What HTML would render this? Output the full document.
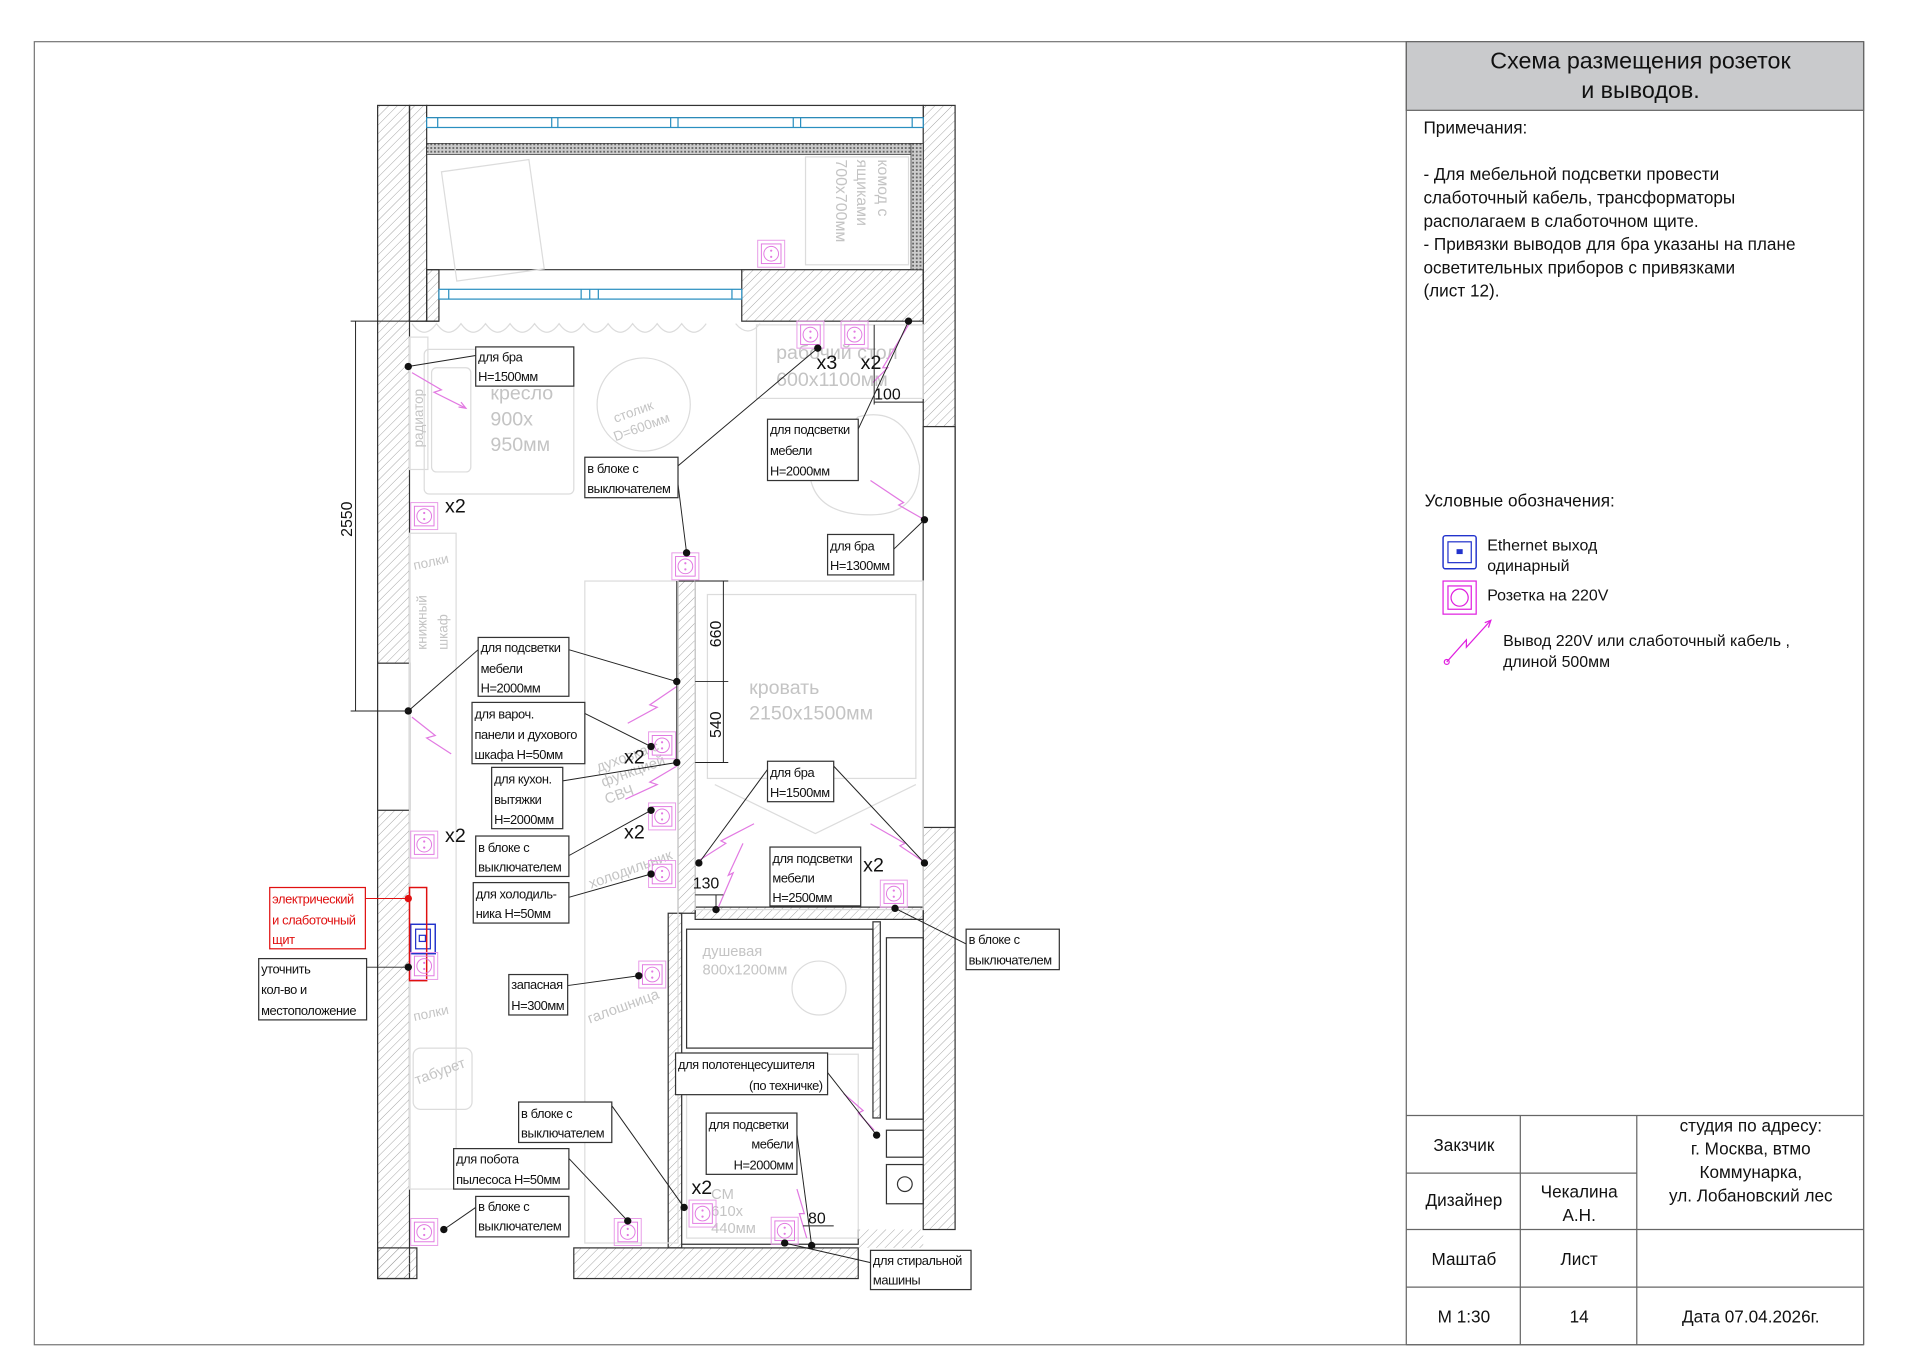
<!DOCTYPE html>
<html><head><meta charset="utf-8"><style>
html,body{margin:0;padding:0;background:#fff;}
svg{display:block;}
.t{font-family:"Liberation Sans",sans-serif;fill:#111;}
.n{font-family:"Liberation Sans Narrow","Liberation Sans",sans-serif;font-size:10.5px;letter-spacing:-0.35px;fill:#111;}
.g{font-family:"Liberation Sans",sans-serif;fill:#c4c4c4;}
.lb{fill:#fff;stroke:#333;stroke-width:1;}
.ld{stroke:#222;stroke-width:0.8;fill:none;}
.s{fill:none;stroke:#e27ae2;stroke-width:1;}
.fu{fill:none;stroke:#dcdcdc;stroke-width:1;}
</style></head><body>
<svg width="1920" height="1357" viewBox="0 0 1566 1107" preserveAspectRatio="none" xmlns="http://www.w3.org/2000/svg">
<defs>
<pattern id="h" width="5" height="5" patternUnits="userSpaceOnUse" patternTransform="rotate(45)"><line x1="0" y1="0" x2="0" y2="5" stroke="#999" stroke-width="0.7"/></pattern>
<pattern id="d" width="3" height="3" patternUnits="userSpaceOnUse"><rect width="3" height="3" fill="#ccc"/><rect width="1.5" height="1.5" fill="#666"/></pattern>
<g id="so"><rect x="0" y="0" width="22" height="22" fill="none" stroke="#e89be8" stroke-width="0.8"/><rect x="3" y="3" width="16" height="16" fill="none" stroke="#e27ae2" stroke-width="0.8"/><circle cx="11" cy="11" r="6" fill="none" stroke="#e27ae2" stroke-width="0.8"/><circle cx="11" cy="8.5" r="0.9" fill="#e27ae2"/><circle cx="11" cy="13.5" r="0.9" fill="#e27ae2"/></g>
</defs>
<rect width="1566" height="1107" fill="#fff"/>
<rect x="28" y="34" width="1492" height="1063" fill="none" stroke="#777" stroke-width="1"/>
<rect x="1147" y="34" width="373" height="56" fill="#c9cacc" stroke="#666"/>
<line x1="1147" y1="34" x2="1147" y2="1097" stroke="#666"/>
<text class="t" x="1338" y="56" font-size="19" text-anchor="middle">Схема размещения розеток</text>
<text class="t" x="1338" y="80" font-size="19" text-anchor="middle">и выводов.</text>
<g class="t" font-size="14">
<text x="1161" y="109">Примечания:</text>
<text x="1161" y="147">- Для мебельной подсветки провести</text>
<text x="1161" y="166">слаботочный кабель, трансформаторы</text>
<text x="1161" y="185">располагаем в слаботочном щите.</text>
<text x="1161" y="204">- Привязки выводов для бра указаны на плане</text>
<text x="1161" y="223">осветительных приборов с привязками</text>
<text x="1161" y="242">(лист 12).</text>
<text x="1162" y="413">Условные обозначения:</text>
</g>
<rect x="1177" y="437" width="27" height="27" fill="none" stroke="#2233cc" stroke-width="1.2" rx="2"/>
<rect x="1181" y="442" width="19" height="17" fill="none" stroke="#2233cc" stroke-width="1"/>
<rect x="1188" y="448" width="5" height="4" fill="#2233cc"/>
<rect x="1177" y="474" width="27" height="27" fill="none" stroke="#e020e0" stroke-width="1"/>
<rect x="1181" y="478" width="19" height="19" fill="none" stroke="#e020e0" stroke-width="1"/>
<circle cx="1190.5" cy="487.5" r="7" fill="none" stroke="#e020e0"/>
<polyline points="1180,540 1196,522 1196,528 1216,506" fill="none" stroke="#e020e0" stroke-width="1"/>
<polyline points="1211,508 1216,506 1214,512" fill="none" stroke="#e020e0"/>
<circle cx="1180" cy="540" r="2" fill="none" stroke="#e020e0"/>
<g class="t" font-size="13">
<text x="1213" y="449">Ethernet выход</text>
<text x="1213" y="466">одинарный</text>
<text x="1213" y="490">Розетка на 220V</text>
<text x="1226" y="527">Вывод 220V или слаботочный кабель ,</text>
<text x="1226" y="544">длиной 500мм</text>
</g>
<g stroke="#666" stroke-width="1" fill="none">
<line x1="1147" y1="910" x2="1520" y2="910"/>
<line x1="1147" y1="957" x2="1335" y2="957"/>
<line x1="1147" y1="1003" x2="1520" y2="1003"/>
<line x1="1147" y1="1050" x2="1520" y2="1050"/>
<line x1="1240" y1="910" x2="1240" y2="1097"/>
<line x1="1335" y1="910" x2="1335" y2="1097"/>
<line x1="1520" y1="34" x2="1520" y2="1097"/>
<line x1="1147" y1="1097" x2="1520" y2="1097"/>
</g>
<g class="t" font-size="14" text-anchor="middle">
<text x="1194" y="939">Закзчик</text>
<text x="1194" y="984">Дизайнер</text>
<text x="1288" y="977">Чекалина</text>
<text x="1288" y="996">А.Н.</text>
<text x="1428" y="923">студия по адресу:</text>
<text x="1428" y="942">г. Москва, втмо</text>
<text x="1428" y="961">Коммунарка,</text>
<text x="1428" y="980">ул. Лобановский лес</text>
<text x="1194" y="1032">Маштаб</text>
<text x="1288" y="1032">Лист</text>
<text x="1194" y="1079">М 1:30</text>
<text x="1288" y="1079">14</text>
<text x="1428" y="1079">Дата 07.04.2026г.</text>
</g>

<g stroke="#333" stroke-width="1">
<rect x="308" y="86" width="26" height="957" fill="url(#h)"/>
<rect x="334" y="86" width="14" height="176" fill="url(#h)"/>
<rect x="753" y="86" width="26" height="917" fill="url(#h)"/>
<rect x="348" y="86" width="405" height="10" fill="#fff"/>
<rect x="348" y="220" width="10" height="42" fill="url(#h)"/>
<rect x="605" y="220" width="148" height="42" fill="url(#h)"/>
<rect x="553" y="474" width="14" height="271" fill="url(#h)"/>
<rect x="567" y="740" width="186" height="10" fill="url(#h)"/>
<rect x="545" y="745" width="11" height="273" fill="url(#h)"/>
<rect x="308" y="1018" width="32" height="25" fill="url(#h)"/>
</g>
<rect x="468" y="1018" width="232" height="25" fill="url(#h)" stroke="#333"/>
<polygon points="700,1003 753,1003 753,1018 700,1018" fill="url(#h)" stroke="none"/>
<rect x="308" y="541" width="26" height="120" fill="#fff" stroke="#333"/>
<rect x="753" y="348" width="26" height="327" fill="#fff" stroke="#333"/>
<rect x="348" y="96" width="405" height="8" fill="#fff" stroke="#2a8fc0" stroke-width="1"/>
<g stroke="#2a8fc0" stroke-width="1"><line x1="357" y1="96" x2="357" y2="104"/><line x1="450" y1="96" x2="450" y2="104"/><line x1="455" y1="96" x2="455" y2="104"/><line x1="547" y1="96" x2="547" y2="104"/><line x1="553" y1="96" x2="553" y2="104"/><line x1="647" y1="96" x2="647" y2="104"/><line x1="653" y1="96" x2="653" y2="104"/><line x1="744" y1="96" x2="744" y2="104"/></g>
<rect x="348" y="117" width="405" height="9" fill="url(#d)" stroke="#333" stroke-width="0.6"/>
<rect x="743" y="117" width="10" height="103" fill="url(#d)" stroke="#333" stroke-width="0.6"/>
<line x1="348" y1="220" x2="605" y2="220" stroke="#333"/>
<rect x="358" y="236" width="247" height="8" fill="#fff" stroke="#2a8fc0"/>
<g stroke="#2a8fc0"><line x1="366" y1="236" x2="366" y2="244"/><line x1="474" y1="236" x2="474" y2="244"/><line x1="481" y1="236" x2="481" y2="244"/><line x1="488" y1="236" x2="488" y2="244"/><line x1="597" y1="236" x2="597" y2="244"/></g>
<line x1="334" y1="262" x2="358" y2="262" stroke="#333"/>
<g stroke="#333" fill="none" stroke-width="1">
<rect x="560" y="758" width="152" height="97"/>
<rect x="712" y="752" width="6" height="160" fill="url(#h)"/>
<rect x="723" y="765" width="30" height="148"/>
<rect x="723" y="922" width="30" height="22"/>
<rect x="723" y="950" width="30" height="32"/>
<circle cx="738" cy="966" r="6"/>
<polyline points="556,1015 700,1015 700,1003"/>
</g>
<g class="fu">
<rect x="657" y="128" width="84" height="88"/>
<rect x="346" y="285" width="122" height="118" rx="4"/>
<rect x="352" y="300" width="32" height="85" rx="4"/>
<circle cx="525" cy="330" r="38"/>
<rect x="617" y="265" width="136" height="60"/>
<path d="M700 340 q40 -10 50 40 q0 40 -40 40 q-50 0 -50 -40z"/>
<rect x="334" y="275" width="15" height="108"/>
<rect x="334" y="435" width="38" height="535"/>
<rect x="477" y="474" width="76" height="540"/>
<rect x="567" y="474" width="186" height="268"/>
<rect x="577" y="485" width="170" height="150"/>
<polyline points="583,640 665,680 747,640"/>
<rect x="337" y="855" width="48" height="50" rx="6"/>
<circle cx="668" cy="806" r="22"/>
<rect x="560" y="860" width="140" height="150"/>
<path d="M600 264 q10 12 20 0 M336 264 q10 14 20 0 q10 14 20 0 q10 14 20 0 q10 14 20 0 q10 14 20 0 q10 14 20 0 q10 14 20 0 q10 14 20 0 q10 14 20 0 q10 14 20 0 q10 14 20 0 q10 14 20 0"/>
<rect x="366" y="135" width="72" height="90" transform="rotate(-8 400 180)"/>
</g>
<g class="g" font-size="16">
<text x="400" y="326">кресло</text><text x="400" y="347">900x</text><text x="400" y="368">950мм</text>
<text x="611" y="566">кровать</text><text x="611" y="587">2150x1500мм</text>
<text x="633" y="293">рабочий стол</text><text x="633" y="315">600x1100мм</text>
</g>
<g class="g" font-size="13">
<text transform="translate(716,130) rotate(90)">комод с</text>
<text transform="translate(699,130) rotate(90)">ящиками</text>
<text transform="translate(682,130) rotate(90)">700x700мм</text>
<text transform="translate(502,345) rotate(-20)" font-size="11">столик</text>
<text transform="translate(502,360) rotate(-20)" font-size="11">D=600мм</text>
<text transform="translate(345,365) rotate(-90)" font-size="11">радиатор</text>
<text transform="translate(338,465) rotate(-12)" font-size="11">полки</text>
<text transform="translate(348,530) rotate(-90)" font-size="11">книжный</text>
<text transform="translate(365,530) rotate(-90)" font-size="11">шкаф</text>
<text transform="translate(338,833) rotate(-12)" font-size="11">полки</text>
<text transform="translate(340,885) rotate(-20)" font-size="12">табурет</text>
<text transform="translate(481,835) rotate(-20)" font-size="12">галошница</text>
<text transform="translate(482,725) rotate(-20)" font-size="12">холодильник</text>
<text transform="translate(488,630) rotate(-20)" font-size="12">духовка с</text>
<text transform="translate(492,642) rotate(-20)" font-size="12">функцией</text>
<text transform="translate(495,656) rotate(-20)" font-size="12">СВЧ</text>
<text x="573" y="780" font-size="12">душевая</text><text x="573" y="795" font-size="12">800x1200мм</text>
<text x="580" y="978" font-size="12">СМ</text><text x="580" y="992" font-size="12">610x</text><text x="580" y="1006" font-size="12">440мм</text>
</g>
<rect x="335" y="754" width="20" height="24" fill="none" stroke="#2233cc" stroke-width="1.2"/>
<rect x="339" y="758" width="12" height="16" fill="none" stroke="#2233cc"/>
<rect x="342" y="763" width="5" height="5" fill="none" stroke="#2233cc"/>
<rect x="334" y="724" width="14" height="76" fill="none" stroke="#e01010" stroke-width="1.2"/>
<use href="#so" x="618" y="196"/><use href="#so" x="650" y="262"/><use href="#so" x="686" y="262"/>
<use href="#so" x="335" y="410"/><use href="#so" x="548" y="451"/><use href="#so" x="529" y="597"/>
<use href="#so" x="529" y="655"/><use href="#so" x="529" y="702"/><use href="#so" x="335" y="678"/>
<use href="#so" x="335" y="777"/><use href="#so" x="521" y="784"/><use href="#so" x="718" y="718"/>
<use href="#so" x="335" y="994"/><use href="#so" x="501" y="994"/><use href="#so" x="562" y="979"/><use href="#so" x="629" y="993"/>
<g class="s">
<polyline points="336,304 360,318 354,320 380,333"/><polyline points="374,332 380,333 376,328"/>
<polyline points="336,585 355,600 348,602 368,615"/>
<polyline points="552,560 530,575 536,577 512,590"/>
<polyline points="552,625 530,638 536,640 510,652"/>
<polyline points="570,702 592,688 588,686 615,672"/>
<polyline points="586,740 598,712 594,714 606,688"/>
<polyline points="752,702 734,690 738,688 710,672"/>
<polyline points="754,424 733,412 737,410 710,392"/>
<polyline points="741,265 720,300 724,300 712,312"/>
<polyline points="713,922 700,908 704,906 688,892"/>
<polyline points="658,1010 652,990 656,990 650,970"/>
</g>
<g class="ld">
<polyline points="333,299 388,290"/>
<polyline points="560,451 553,395"/><polyline points="553,380 667,284"/>
<polyline points="700,350 741,262"/>
<polyline points="729,448 754,424"/>
<polyline points="333,580 390,530"/><polyline points="464,530 552,556"/>
<polyline points="477,582 531,609"/>
<polyline points="459,637 552,622"/>
<polyline points="464,698 531,661"/>
<polyline points="464,732 531,713"/>
<polyline points="570,704 628,625"/><polyline points="680,625 754,704"/>
<polyline points="730,741 788,770"/>
<polyline points="298,789 333,789"/>
<polyline points="463,804 521,796"/>
<polyline points="675,875 715,926"/>
<polyline points="650,925 662,1016"/>
<polyline points="499,902 558,985"/>
<polyline points="464,945 512,996"/>
<polyline points="388,985 362,1003"/>
<polyline points="640,1014 710,1030"/>
<polyline points="552,474 552,622"/>
</g>
<line x1="298" y1="733" x2="333" y2="733" stroke="#e01010" stroke-width="0.8"/>
<g fill="#111">
<circle cx="333" cy="299" r="3"/><circle cx="560" cy="451" r="3"/><circle cx="667" cy="284" r="3"/><circle cx="741" cy="262" r="3"/>
<circle cx="754" cy="424" r="3"/><circle cx="333" cy="580" r="3"/><circle cx="552" cy="556" r="3"/><circle cx="531" cy="609" r="3"/>
<circle cx="552" cy="622" r="3"/><circle cx="531" cy="661" r="3"/><circle cx="531" cy="713" r="3"/><circle cx="570" cy="704" r="3"/>
<circle cx="754" cy="704" r="3"/><circle cx="584" cy="742" r="3"/><circle cx="730" cy="741" r="3"/><circle cx="333" cy="789" r="3"/>
<circle cx="521" cy="796" r="3"/><circle cx="715" cy="926" r="3"/><circle cx="662" cy="1016" r="3"/><circle cx="558" cy="985" r="3"/>
<circle cx="512" cy="996" r="3"/><circle cx="362" cy="1003" r="3"/><circle cx="640" cy="1014" r="3"/>
</g>
<circle cx="333" cy="733" r="3" fill="#e01010"/>
<g>
<rect class="lb" x="388" y="283" width="80" height="32"/><text class="n" x="390" y="295">для бра</text><text class="n" x="390" y="311">H=1500мм</text>
<rect class="lb" x="477" y="373" width="76" height="33"/><text class="n" x="479" y="386">в блоке с</text><text class="n" x="479" y="402">выключателем</text>
<rect class="lb" x="626" y="342" width="74" height="50"/><text class="n" x="628" y="354">для подсветки</text><text class="n" x="628" y="371">мебели</text><text class="n" x="628" y="388">H=2000мм</text>
<rect class="lb" x="675" y="436" width="54" height="33"/><text class="n" x="677" y="449">для бра</text><text class="n" x="677" y="465">H=1300мм</text>
<rect class="lb" x="390" y="520" width="74" height="48"/><text class="n" x="392" y="532">для подсветки</text><text class="n" x="392" y="549">мебели</text><text class="n" x="392" y="565">H=2000мм</text>
<rect class="lb" x="385" y="573" width="92" height="50"/><text class="n" x="387" y="586">для вароч.</text><text class="n" x="387" y="603">панели и духового</text><text class="n" x="387" y="619">шкафа H=50мм</text>
<rect class="lb" x="401" y="626" width="58" height="50"/><text class="n" x="403" y="639">для кухон.</text><text class="n" x="403" y="656">вытяжки</text><text class="n" x="403" y="672">H=2000мм</text>
<rect class="lb" x="388" y="682" width="76" height="33"/><text class="n" x="390" y="695">в блоке с</text><text class="n" x="390" y="711">выключателем</text>
<rect class="lb" x="386" y="720" width="78" height="33"/><text class="n" x="388" y="733">для холодиль-</text><text class="n" x="388" y="749">ника H=50мм</text>
<rect class="lb" x="626" y="621" width="54" height="33"/><text class="n" x="628" y="634">для бра</text><text class="n" x="628" y="650">H=1500мм</text>
<rect class="lb" x="628" y="691" width="74" height="48"/><text class="n" x="630" y="704">для подсветки</text><text class="n" x="630" y="720">мебели</text><text class="n" x="630" y="736">H=2500мм</text>
<rect class="lb" x="788" y="758" width="76" height="33"/><text class="n" x="790" y="770">в блоке с</text><text class="n" x="790" y="787">выключателем</text>
<rect x="220" y="724" width="78" height="50" fill="#fff" stroke="#e01010"/><text class="n" x="222" y="737" style="fill:#e01010">электрический</text><text class="n" x="222" y="754" style="fill:#e01010">и слаботочный</text><text class="n" x="222" y="770" style="fill:#e01010">щит</text>
<rect class="lb" x="211" y="782" width="88" height="50"/><text class="n" x="213" y="794">уточнить</text><text class="n" x="213" y="811">кол-во и</text><text class="n" x="213" y="828">местоположение</text>
<rect class="lb" x="415" y="795" width="48" height="33"/><text class="n" x="417" y="807">запасная</text><text class="n" x="417" y="824">H=300мм</text>
<rect class="lb" x="551" y="859" width="124" height="34"/><text class="n" x="553" y="872">для полотенцесушителя</text><text class="n" x="671" y="889" text-anchor="end">(по техничке)</text>
<rect class="lb" x="576" y="908" width="74" height="50"/><text class="n" x="578" y="921">для подсветки</text><text class="n" x="647" y="937" text-anchor="end">мебели</text><text class="n" x="647" y="954" text-anchor="end">H=2000мм</text>
<rect class="lb" x="423" y="899" width="76" height="33"/><text class="n" x="425" y="912">в блоке с</text><text class="n" x="425" y="928">выключателем</text>
<rect class="lb" x="370" y="937" width="94" height="33"/><text class="n" x="372" y="949">для  побота</text><text class="n" x="372" y="966">пылесоса H=50мм</text>
<rect class="lb" x="388" y="976" width="76" height="33"/><text class="n" x="390" y="988">в блоке с</text><text class="n" x="390" y="1004">выключателем</text>
<rect class="lb" x="710" y="1020" width="82" height="32"/><text class="n" x="712" y="1032">для стиральной</text><text class="n" x="712" y="1048">машины</text>
</g>
<g class="t" font-size="16">
<text x="363" y="418">x2</text><text x="666" y="301">x3</text><text x="702" y="301">x2</text>
<text x="509" y="623">x2</text><text x="509" y="684">x2</text><text x="363" y="687">x2</text>
<text x="704" y="711">x2</text><text x="564" y="974">x2</text>
</g>
<g stroke="#222" stroke-width="0.8">
<line x1="290" y1="262" x2="290" y2="580"/><line x1="286" y1="262" x2="334" y2="262"/><line x1="286" y1="580" x2="334" y2="580"/>
<line x1="590" y1="474" x2="590" y2="622"/><line x1="567" y1="556" x2="594" y2="556"/><line x1="567" y1="622" x2="594" y2="622"/><line x1="567" y1="474" x2="594" y2="474"/>
<line x1="713" y1="328" x2="753" y2="328"/><line x1="713" y1="265" x2="713" y2="330"/>
<line x1="567" y1="730" x2="590" y2="730"/><line x1="584" y1="730" x2="584" y2="742"/>
<line x1="655" y1="1000" x2="680" y2="1000"/>
</g>
<g class="t" font-size="13">
<text transform="translate(287,438) rotate(-90)">2550</text>
<text transform="translate(588,528) rotate(-90)">660</text>
<text transform="translate(588,602) rotate(-90)">540</text>
<text x="713" y="326">100</text>
<text x="565" y="725">130</text>
<text x="659" y="998">80</text>
</g>
</svg>
</body></html>
